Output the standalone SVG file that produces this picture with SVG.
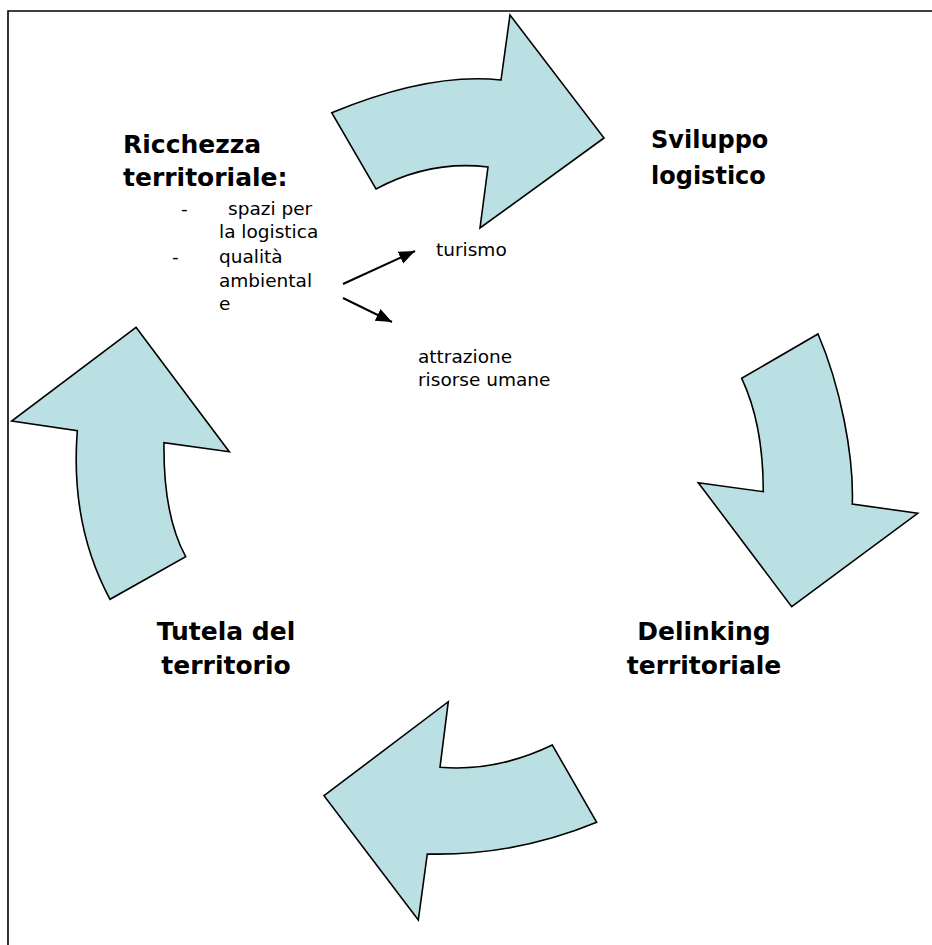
<svg xmlns="http://www.w3.org/2000/svg" width="932" height="945" viewBox="0 0 932 945">
<style>
.arr{fill:#BBE0E3;stroke:#000;stroke-width:1.6;stroke-linejoin:miter}
.big{font-family:"DejaVu Sans","Liberation Sans",sans-serif;font-weight:bold;font-size:25px;fill:#000}
.sm{font-family:"DejaVu Sans","Liberation Sans",sans-serif;font-size:18.5px;fill:#000}
.con{stroke:#000;stroke-width:2;fill:none}
</style>
<defs>
<marker id="ah" markerUnits="userSpaceOnUse" markerWidth="17" markerHeight="14" refX="16" refY="6.5" orient="auto">
<path d="M0,0 L16,6.5 L0,13 Z" fill="#000"/>
</marker>
</defs>
<rect width="932" height="945" fill="#fff"/>
<path d="M8,945 V11 H932" fill="none" stroke="#000" stroke-width="1.6"/>
<g id="arrow-top"><path class="arr" d="M331.7,112.7 Q430,72 501,80 L510,15 L604,138 L480,228 L488,167 Q430,160 376,189 Z"/></g>
<g id="arrow-right"><path class="arr" d="M741.7,378.3 L818,334 C840,385 854,455 852.3,504 L917.7,513.3 L791.7,606.7 L698.3,482.7 L763.3,491.7 Q763.3,424 741.7,378.3 Z"/></g>
<g id="arrow-bottom"><path class="arr" d="M448.3,701.7 L440,767.3 Q496,772 552.3,745 L596.7,822.3 Q515,856 427.3,854 L418.3,920 L324,795.7 Z"/></g>
<g id="arrow-left"><path class="arr" d="M136,327.3 L229.3,451.7 L164,442.7 Q163,515 185.7,556.7 L110,599.3 Q70,525 77.3,430.7 L11.7,421 Z"/></g>
<g id="ricchezza">
<text class="big" x="123" y="153">Ricchezza</text>
<text class="big" x="123" y="186">territoriale:</text>
<text class="sm" x="181" y="215">-</text>
<text class="sm" x="228" y="215">spazi per</text>
<text class="sm" x="219" y="238">la logistica</text>
<text class="sm" x="172" y="263">-</text>
<text class="sm" x="219" y="263">qualità</text>
<text class="sm" x="219" y="287">ambiental</text>
<text class="sm" x="219" y="310">e</text>
</g>
<g id="sviluppo">
<text class="big" x="651" y="148" style="font-size:24px">Sviluppo</text>
<text class="big" x="651" y="184" style="font-size:24px">logistico</text>
</g>
<g id="delinking">
<text class="big" x="704" y="640" text-anchor="middle">Delinking</text>
<text class="big" x="704" y="674" text-anchor="middle">territoriale</text>
</g>
<g id="tutela">
<text class="big" x="226" y="640" text-anchor="middle">Tutela del</text>
<text class="big" x="226" y="674" text-anchor="middle">territorio</text>
</g>
<g id="turismo"><text class="sm" x="436" y="256">turismo</text></g>
<g id="attrazione">
<text class="sm" x="418" y="363">attrazione</text>
<text class="sm" x="418" y="386">risorse umane</text>
</g>
<g id="connectors">
<line class="con" x1="343" y1="284" x2="415" y2="251" marker-end="url(#ah)"/>
<line class="con" x1="343" y1="298" x2="392" y2="322" marker-end="url(#ah)"/>
</g>
</svg>
